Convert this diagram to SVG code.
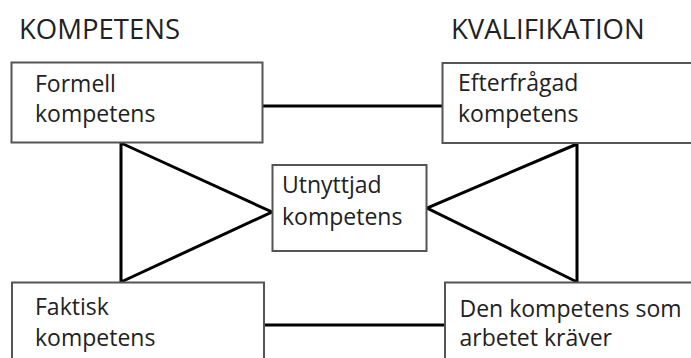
<svg xmlns="http://www.w3.org/2000/svg" width="691" height="358" viewBox="0 0 691 358">
<style>
.box{fill:#fff;stroke:#555;stroke-width:2}
.t{font-family:"Open Sans","Noto Sans",sans-serif;font-size:23px;fill:#222}
.h{font-family:"Open Sans","Noto Sans",sans-serif;font-size:27.5px;fill:#222}
.c{stroke:#000;stroke-width:3;fill:none;stroke-linejoin:miter}
</style>
<rect width="691" height="358" fill="#fff"/>
<text class="h" x="19" y="39">KOMPETENS</text>
<text class="h" x="451" y="39">KVALIFIKATION</text>
<g id="connectors">
<line class="c" x1="263" y1="106" x2="442" y2="106"/>
<line class="c" x1="264" y1="325" x2="445" y2="325"/>
<path class="c" d="M121,143 L121,282 M121,143 L272,212 L121,282"/>
<path class="c" d="M577,144 L577,282 M577,144 L427,208 L577,282"/>
</g>
<g id="formell">
<rect class="box" x="11.5" y="62.5" width="251" height="80"/>
<text class="t" x="35" y="91.5">Formell</text>
<text class="t" x="35" y="122">kompetens</text>
</g>
<g id="efterfragad">
<rect class="box" x="442.5" y="63" width="260" height="80"/>
<text class="t" x="458" y="91">Efterfrågad</text>
<text class="t" x="458" y="121.5">kompetens</text>
</g>
<g id="utnyttjad">
<rect class="box" x="272.5" y="165" width="154" height="86"/>
<text class="t" x="282" y="192.5">Utnyttjad</text>
<text class="t" x="282" y="225">kompetens</text>
</g>
<g id="faktisk">
<rect class="box" x="12" y="282.5" width="252" height="90"/>
<text class="t" x="35" y="315">Faktisk</text>
<text class="t" x="35" y="345.5">kompetens</text>
</g>
<g id="kraver">
<rect class="box" x="445" y="282.5" width="260" height="90"/>
<text class="t" x="459.5" y="316.5">Den kompetens som</text>
<text class="t" x="459.5" y="345.5">arbetet kräver</text>
</g>
</svg>
